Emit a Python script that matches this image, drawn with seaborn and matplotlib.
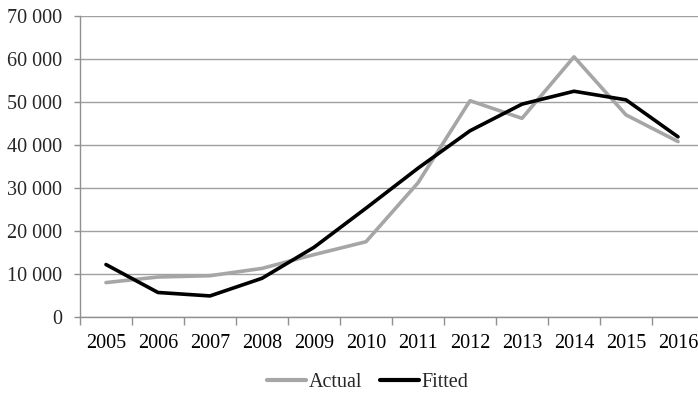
import numpy as np
import pandas as pd
import matplotlib
matplotlib.use("Agg")
import matplotlib.pyplot as plt
from matplotlib.ticker import FuncFormatter, FixedLocator
import seaborn as sns

years = ["2005", "2006", "2007", "2008", "2009", "2010",
         "2011", "2012", "2013", "2014", "2015", "2016"]
actual = [8000, 9300, 9600, 11300, 14500, 17500,
          31200, 50300, 46200, 60500, 47000, 40800]
fitted = [12200, 5700, 4900, 9000, 16200, 25300,
          34600, 43300, 49500, 52500, 50500, 41900]
series_names = ["Actual", "Fitted"]
series_colors = ["#a6a6a6", "#000000"]

df = pd.DataFrame({
    "year": years * 2,
    "value": actual + fitted,
    "series": [series_names[0]] * len(years) + [series_names[1]] * len(years),
})

sns.set_style("white")
plt.rcParams["font.family"] = ["Liberation Serif", "DejaVu Serif"]
plt.rcParams["font.size"] = 14.5

fig = plt.figure(figsize=(6.98, 3.93), dpi=100)
ax = fig.add_axes([0.1146, 0.1934, 0.894, 0.7659])

sns.lineplot(data=df, x="year", y="value", hue="series",
             palette=dict(zip(series_names, series_colors)),
             linewidth=2.6, sort=False, ax=ax, legend=True)

n = len(years)
ax.set_xlim(-0.5, n - 0.5)
ax.set_ylim(0, 70000)
ax.set_yticks(np.arange(0, 70001, 10000))
ax.yaxis.set_major_formatter(FuncFormatter(lambda v, p: f"{int(v):,}".replace(",", " ")))
ax.set_xlabel("")
ax.set_ylabel("")

ax.grid(axis="y", color="#a0a0a0", linewidth=1.0)
ax.set_axisbelow(True)
for s in ["top", "right"]:
    ax.spines[s].set_visible(False)
for s in ["left", "bottom"]:
    ax.spines[s].set_color("#909090")
    ax.spines[s].set_linewidth(1.0)

ax.xaxis.set_minor_locator(FixedLocator(np.arange(-0.5, n, 1.0)))
ax.tick_params(axis="x", which="major", length=0, pad=12, labelsize=14.5, colors="black")
ax.tick_params(axis="x", which="minor", length=6, width=1.0, color="#909090", direction="out", bottom=True)
ax.tick_params(axis="y", which="major", length=4, width=1.0, color="#909090", direction="out",
               pad=9, labelsize=14.5, left=True)

handles, labels = ax.get_legend_handles_labels()
ax.get_legend().remove()
for h in handles:
    h.set_linewidth(3)
fig.legend(handles, labels, loc="center", bbox_to_anchor=(368 / 698, 1 - 382 / 393),
           ncol=2, frameon=False, fontsize=14.5, handlelength=1.9,
           handletextpad=0.15, columnspacing=0.9)

fig.savefig("out.png", dpi=100)
